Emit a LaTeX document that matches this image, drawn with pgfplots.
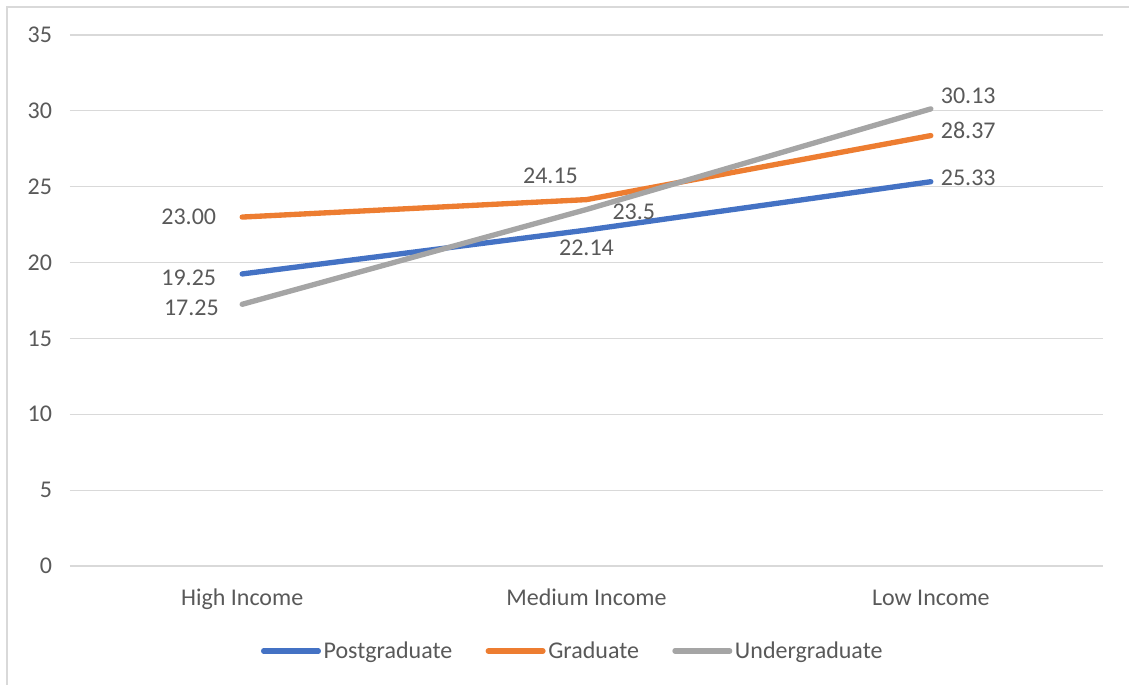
\documentclass[border=0pt]{standalone}
\usepackage{fontspec}
\setmainfont{Carlito}
\usepackage{pgfplots}
\pgfplotsset{compat=1.18}
\definecolor{cBlue}{HTML}{4472C4}
\definecolor{cOrange}{HTML}{ED7D31}
\definecolor{cGray}{HTML}{A5A5A5}
\definecolor{cText}{HTML}{595959}
\definecolor{cGrid}{HTML}{D9D9D9}
\begin{document}
\begin{tikzpicture}[x=0.75pt,y=0.75pt]
% canvas 1129 x 685 px, y measured from the top
\useasboundingbox (0,0) rectangle (1129,-685);
\draw[cGrid, line width=1.5pt] (7,-685) -- (7,-7) -- (1129,-7);
\begin{axis}[
    at={(70pt*0.75,-566pt*0.75)}, anchor=south west,
    scale only axis,
    width=774.75pt, height=398.25pt,
    xmin=-0.5, xmax=2.5,
    ymin=0, ymax=35,
    ytick={0,5,...,35},
    xtick={0,1,2},
    xticklabels={High Income, Medium Income, Low Income},
    axis line style={draw=none},
    major tick length=0pt,
    ymajorgrids=true,
    grid style={cGrid, line width=0.9pt},
    tick label style={font=\fontsize{18}{21}\selectfont, text=cText},
    /pgf/number format/assume math mode=true,
    yticklabel style={xshift=-10pt},
    xticklabel style={yshift=-18.5pt, text height=1.6ex, text depth=0.45ex},
    legend style={at={(0.487,-0.16)}, anchor=center, draw=none,
        font=\fontsize{18}{21}\selectfont, text=cText,
        /tikz/every even column/.append style={column sep=23pt}},
    legend columns=-1,
    legend image code/.code={\draw[#1, line cap=round] (0pt,0pt) -- (41pt,0pt);},
    clip=false,
]
\addplot[cBlue, line width=4pt, line cap=round, line join=round] coordinates {(0,19.25) (1,22.14) (2,25.33)};
\addlegendentry{Postgraduate}
\addplot[cOrange, line width=4pt, line cap=round, line join=round] coordinates {(0,23.00) (1,24.15) (2,28.37)};
\addlegendentry{Graduate}
\addplot[cGray, line width=4pt, line cap=round, line join=round] coordinates {(0,17.25) (1,23.5) (2,30.13)};
\addlegendentry{Undergraduate}

\begin{scope}[every node/.style={font=\fontsize{18}{21}\selectfont, text=cText}]
\node[anchor=east] at ([xshift=-16pt]axis cs:0,23.00) {23.00};
\node[anchor=east] at ([xshift=-16pt,yshift=-3pt]axis cs:0,19.25) {19.25};
\node[anchor=east] at ([xshift=-14pt,yshift=-3pt]axis cs:0,17.25) {17.25};
\node at ([xshift=-27pt,yshift=18pt]axis cs:1,24.15) {24.15};
\node[anchor=west] at ([xshift=16pt,yshift=-2pt]axis cs:1,23.5) {23.5};
\node at ([yshift=-13pt]axis cs:1,22.14) {22.14};
\node[anchor=west] at ([xshift=4pt,yshift=10pt]axis cs:2,30.13) {30.13};
\node[anchor=west] at ([xshift=4pt,yshift=4pt]axis cs:2,28.37) {28.37};
\node[anchor=west] at ([xshift=4pt,yshift=3pt]axis cs:2,25.33) {25.33};
\end{scope}
\end{axis}
\end{tikzpicture}
\end{document}
